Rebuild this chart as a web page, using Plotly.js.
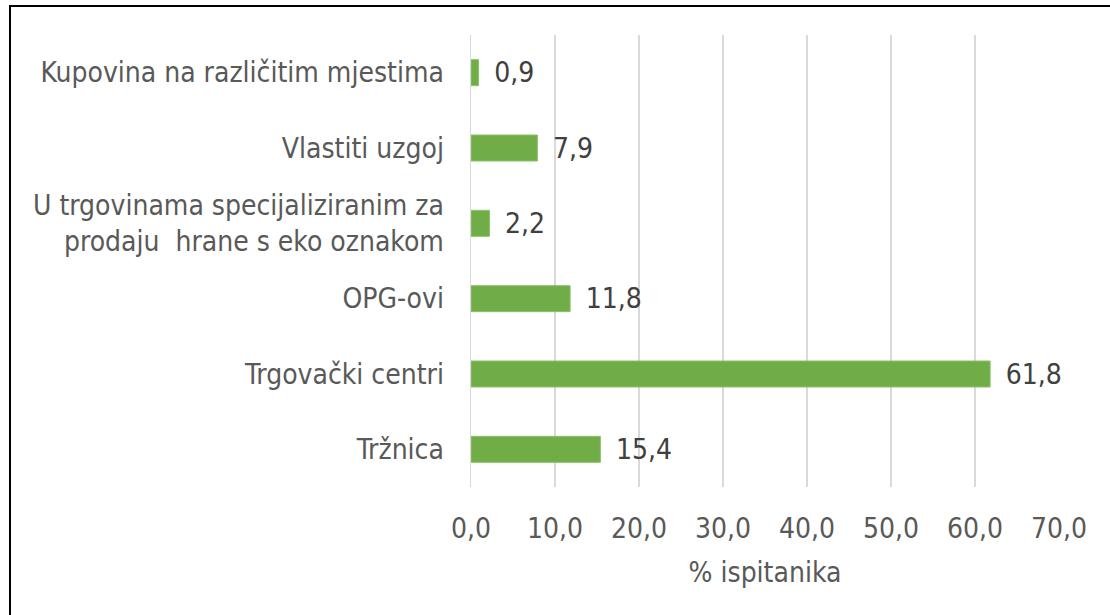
<!DOCTYPE html>
<html>
<head>
<meta charset="utf-8">
<script src="https://cdn.plot.ly/plotly-3.0.1.min.js"></script>
<style>
html,body{margin:0;padding:0;background:#fff;}
#wrap{position:relative;width:1110px;height:615px;overflow:hidden;}
#chart{position:absolute;left:0;top:0;width:1110px;height:615px;}
#frame{position:absolute;left:9px;top:5px;width:1200px;height:700px;border-top:2px solid #000;border-left:2px solid #000;pointer-events:none;}
</style>
</head>
<body>
<div id="wrap"><div id="chart"></div><div id="frame"></div></div>
<script>
const categories = [
  "Tržnica",
  "Trgovački centri",
  "OPG-ovi",
  "U trgovinama specijaliziranim za<br>prodaju  hrane s eko oznakom",
  "Vlastiti uzgoj",
  "Kupovina na različitim mjestima"
];
const values = [15.4, 61.8, 11.8, 2.2, 7.9, 0.9];
const tickValues = [0, 10, 20, 30, 40, 50, 60, 70];
const tickLabels = ["0,0", "10,0", "20,0", "30,0", "40,0", "50,0", "60,0", "70,0"];
const axisTitle = "% ispitanika";

const fontFamily = "'DejaVu Sans Condensed', 'DejaVu Sans', sans-serif";
const textColor = "#595959";

const trace = {
  type: "bar",
  orientation: "h",
  y: categories,
  x: values,
  text: values.map(v => "\u2002" + v.toFixed(1).replace(".", ",")),
  textposition: "outside",
  constraintext: "none",
  cliponaxis: false,
  textfont: {family: fontFamily, size: 28, color: "#404040"},
  marker: {color: "#70AD47", line: {color: "#8CC168", width: 1}},
  width: 0.345,
  hoverinfo: "skip"
};

const layout = {
  width: 1110,
  height: 615,
  margin: {l: 471, r: 51, t: 35, b: 128},
  paper_bgcolor: "rgba(0,0,0,0)",
  plot_bgcolor: "#fff",
  showlegend: false,
  font: {family: fontFamily, size: 28, color: textColor},
  xaxis: {
    range: [0, 70],
    tickvals: tickValues,
    ticktext: tickLabels,
    showgrid: true,
    gridcolor: "#D9D9D9",
    gridwidth: 1.5,
    zeroline: false,
    showline: false,
    ticks: "",
    ticklabelstandoff: 22,
    tickfont: {family: fontFamily, size: 28, color: textColor},
    title: {text: axisTitle, font: {family: fontFamily, size: 28, color: textColor}, standoff: 18}
  },
  yaxis: {
    type: "category",
    showgrid: false,
    zeroline: false,
    showline: true,
    linecolor: "#D9D9D9",
    linewidth: 1.5,
    ticks: "",
    ticklabelstandoff: 20,
    tickfont: {family: fontFamily, size: 28, color: textColor}
  }
};

Plotly.newPlot("chart", [trace], layout, {displayModeBar: false, staticPlot: true});
</script>
</body>
</html>
